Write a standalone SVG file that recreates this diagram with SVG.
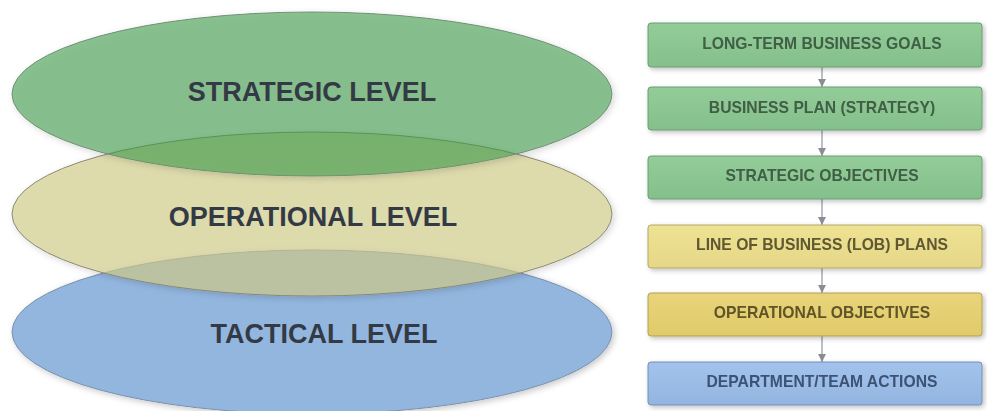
<svg xmlns="http://www.w3.org/2000/svg" width="987" height="411" viewBox="0 0 987 411">
<defs>
<filter id="sh" x="-10%" y="-10%" width="125%" height="130%">
<feDropShadow dx="2" dy="2" stdDeviation="2.5" flood-color="#000" flood-opacity="0.25"/>
</filter>
<filter id="esh" x="-10%" y="-10%" width="125%" height="130%">
<feGaussianBlur in="SourceAlpha" stdDeviation="3"/>
<feOffset dx="2" dy="2" result="b"/>
<feFlood flood-color="#000" flood-opacity="0.22"/>
<feComposite in2="b" operator="in" result="s"/>
<feComposite in="s" in2="SourceAlpha" operator="out" result="so"/>
<feMerge><feMergeNode in="so"/><feMergeNode in="SourceGraphic"/></feMerge>
</filter>
<linearGradient id="gG" x1="0" y1="0" x2="0" y2="1"><stop offset="0" stop-color="#93cc99"/><stop offset="1" stop-color="#84c08b"/></linearGradient>
<linearGradient id="gY1" x1="0" y1="0" x2="0" y2="1"><stop offset="0" stop-color="#eee293"/><stop offset="1" stop-color="#e5d787"/></linearGradient>
<linearGradient id="gY2" x1="0" y1="0" x2="0" y2="1"><stop offset="0" stop-color="#e9d47a"/><stop offset="1" stop-color="#e0ca6a"/></linearGradient>
<linearGradient id="gB" x1="0" y1="0" x2="0" y2="1"><stop offset="0" stop-color="#a3c3ec"/><stop offset="1" stop-color="#92b5e0"/></linearGradient>
<marker id="ah" viewBox="0 0 10 10" refX="10" refY="5" markerWidth="8" markerHeight="9" markerUnits="userSpaceOnUse" orient="auto">
<path d="M0,0 L10,5 L0,10 z" fill="#8a8e94"/>
</marker>
</defs>
<style>
.lvl{font-family:"Liberation Sans",Arial,sans-serif;font-weight:bold;font-size:27px;fill:#343a45;text-anchor:middle}
.bx{font-family:"Liberation Sans",Arial,sans-serif;font-weight:bold;font-size:15.7px;text-anchor:middle}
.box{stroke-width:1}
.g{fill:url(#gG);stroke:#6a9e70}
.y1{fill:url(#gY1);stroke:#b4a766}
.y2{fill:url(#gY2);stroke:#b2a055}
.b{fill:url(#gB);stroke:#7090b8}
.c{stroke:#9a9ea4;stroke-width:1.3;fill:none;marker-end:url(#ah)}
</style>
<g id="tactical">
<ellipse cx="312" cy="332" rx="300" ry="82" fill="#93b6df" stroke="#7b8ea8" stroke-width="1" filter="url(#esh)"/>
<text class="lvl" x="324" y="343">TACTICAL LEVEL</text>
</g>
<g id="operational">
<ellipse cx="312" cy="214" rx="300" ry="82" fill="#cfca85" fill-opacity="0.66" stroke="#8a8870" stroke-width="1" filter="url(#esh)"/>
<text class="lvl" x="313" y="226">OPERATIONAL LEVEL</text>
</g>
<g id="strategic">
<ellipse cx="312" cy="94" rx="300" ry="82" fill="#3d9a4a" fill-opacity="0.6" stroke="#6f8f72" stroke-width="1" filter="url(#esh)"/>
<text class="lvl" x="312" y="101">STRATEGIC LEVEL</text>
</g>
<g id="connectors">
<line class="c" x1="822" y1="67" x2="822" y2="87"/>
<line class="c" x1="822" y1="130" x2="822" y2="156"/>
<line class="c" x1="822" y1="199" x2="822" y2="225"/>
<line class="c" x1="822" y1="268" x2="822" y2="293"/>
<line class="c" x1="822" y1="336" x2="822" y2="362"/>
</g>
<g id="n1" filter="url(#sh)"><rect class="box g" x="648" y="23" width="334" height="44" rx="3"/><text class="bx" x="822" y="49" fill="#3f5e44">LONG-TERM BUSINESS GOALS</text></g>
<g id="n2" filter="url(#sh)"><rect class="box g" x="648" y="87" width="334" height="43" rx="3"/><text class="bx" x="822" y="113" fill="#3f5e44">BUSINESS PLAN (STRATEGY)</text></g>
<g id="n3" filter="url(#sh)"><rect class="box g" x="648" y="156" width="334" height="43" rx="3"/><text class="bx" x="822" y="181" fill="#3f5e44">STRATEGIC OBJECTIVES</text></g>
<g id="n4" filter="url(#sh)"><rect class="box y1" x="648" y="225" width="334" height="43" rx="3"/><text class="bx" x="822" y="250" fill="#5e5830">LINE OF BUSINESS (LOB) PLANS</text></g>
<g id="n5" filter="url(#sh)"><rect class="box y2" x="648" y="293" width="334" height="43" rx="3"/><text class="bx" x="822" y="318" fill="#5e5528">OPERATIONAL OBJECTIVES</text></g>
<g id="n6" filter="url(#sh)"><rect class="box b" x="648" y="362" width="334" height="43" rx="3"/><text class="bx" x="822" y="387" fill="#3d5274">DEPARTMENT/TEAM ACTIONS</text></g>
</svg>
